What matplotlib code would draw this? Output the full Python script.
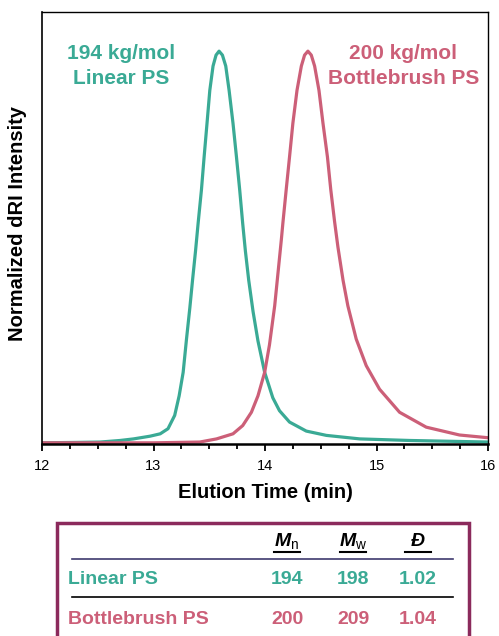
import matplotlib
matplotlib.use('Agg')
import matplotlib.pyplot as plt
from matplotlib.lines import Line2D
from matplotlib.patches import Rectangle

plt.rcParams['font.family'] = ['Liberation Sans', 'DejaVu Sans']
plt.rcParams['mathtext.fontset'] = 'custom'
plt.rcParams['mathtext.it'] = 'Liberation Sans:italic:bold'
plt.rcParams['mathtext.rm'] = 'Liberation Sans'

# elution traces
linear_t = [12.0, 12.3, 12.52, 12.7, 12.82, 12.97, 13.06, 13.13, 13.19, 13.23, 13.266,
            13.296, 13.326, 13.35, 13.377, 13.40, 13.43, 13.454, 13.48, 13.505, 13.534,
            13.561, 13.588, 13.618, 13.648, 13.678, 13.713, 13.744, 13.773, 13.80, 13.824,
            13.854, 13.893, 13.937, 13.997, 14.07, 14.13, 14.22, 14.37, 14.55, 14.85,
            15.30, 15.65, 16.0]
linear_i = [0.0, 0.001, 0.002, 0.006, 0.010, 0.017, 0.023, 0.036, 0.07, 0.12, 0.18,
            0.265, 0.345, 0.415, 0.49, 0.56, 0.646, 0.73, 0.816, 0.90, 0.962,
            0.99, 1.0, 0.99, 0.962, 0.90, 0.816, 0.73, 0.646, 0.56, 0.49,
            0.415, 0.335, 0.26, 0.18, 0.115, 0.082, 0.053, 0.030, 0.019, 0.010,
            0.006, 0.004, 0.002]

brush_t = [12.0, 13.0, 13.415, 13.565, 13.713, 13.80, 13.878, 13.937, 13.997, 14.04,
           14.087, 14.117, 14.147, 14.16, 14.19, 14.22, 14.25, 14.287, 14.326, 14.355,
           14.385, 14.415, 14.445, 14.484, 14.52, 14.56, 14.59, 14.624, 14.654, 14.70,
           14.743, 14.818, 14.908, 15.027, 15.207, 15.446, 15.744, 16.0]
brush_i = [0.0, 0.0, 0.002, 0.010, 0.023, 0.044, 0.078, 0.12, 0.18, 0.25,
           0.35, 0.435, 0.52, 0.56, 0.646, 0.73, 0.816, 0.90, 0.962, 0.99,
           1.0, 0.99, 0.962, 0.90, 0.816, 0.73, 0.646, 0.565, 0.50, 0.415,
           0.35, 0.265, 0.197, 0.137, 0.078, 0.040, 0.020, 0.013]

# table values
rows = ['Linear PS', 'Bottlebrush PS']
mn = ['194', '200']
mw = ['198', '209']
disp = ['1.02', '1.04']
headers = [r'$M_{\mathrm{n}}$', r'$M_{\mathrm{w}}$', 'Đ']

green = '#3aaa95'
pink = '#cc5f78'
W, H = 499, 636

fig = plt.figure(figsize=(W / 100, H / 100), dpi=100)
ax = fig.add_axes([42 / W, 1 - 444 / H, 446 / W, 432 / H])

ax.plot(linear_t, linear_i, color=green, lw=2.3, solid_joinstyle='round')
ax.plot(brush_t, brush_i, color=pink, lw=2.3, solid_joinstyle='round')

ax.set_xlim(12, 16)
ax.set_ylim(-0.003, 1.10)
ax.set_xticks([12, 13, 14, 15, 16])
ax.set_xticks([12 + 0.25 * k for k in range(17)], minor=True)
ax.set_yticks([])
ax.tick_params(axis='x', which='major', direction='out', length=5, width=1.3, labelsize=10.5, pad=6)
ax.tick_params(axis='x', which='minor', direction='out', length=3.5, width=1.3)
ax.spines['bottom'].set_linewidth(1.8)
ax.spines['left'].set_linewidth(1.2)
ax.spines['top'].set_linewidth(1.0)
ax.spines['right'].set_linewidth(1.0)
ax.set_xlabel('Elution Time (min)', fontsize=14.5, fontweight='bold', labelpad=7)
fig.text(18 / W, 1 - 224 / H, 'Normalized dRI Intensity', rotation=90, ha='center', va='center',
         fontsize=14.5, fontweight='bold')

ax.text(12.71, 0.962, '194 kg/mol\nLinear PS', color=green, fontsize=15, fontweight='bold',
        ha='center', va='center', linespacing=1.35)
ax.text(15.24, 0.962, '200 kg/mol\nBottlebrush PS', color=pink, fontsize=15, fontweight='bold',
        ha='center', va='center', linespacing=1.35)

# table below the chart
box = Rectangle((57 / W, -0.1), (469 - 57) / W, 0.1 + 1 - 523 / H, transform=fig.transFigure,
                fill=False, edgecolor='#8b2a5c', lw=2.5, clip_on=False)
fig.add_artist(box)

col_x = [287, 353, 418]
for x, h in zip(col_x, headers):
    fig.text(x / W, 1 - 541 / H, h, ha='center', va='center', fontsize=14,
             fontweight='bold', fontstyle='italic')
    fig.add_artist(Line2D([(x - 13) / W, (x + 13) / W], [1 - 552 / H, 1 - 552 / H],
                          transform=fig.transFigure, color='black', lw=1.5))

fig.add_artist(Line2D([72 / W, 453 / W], [1 - 559 / H, 1 - 559 / H],
                      transform=fig.transFigure, color='#3e3a6e', lw=1.2))
fig.add_artist(Line2D([72 / W, 453 / W], [1 - 597 / H, 1 - 597 / H],
                      transform=fig.transFigure, color='black', lw=1.2))

row_y = [579, 619]
for name, a, b, d, y, c in zip(rows, mn, mw, disp, row_y, [green, pink]):
    fig.text(68 / W, 1 - y / H, name, ha='left', va='center', fontsize=14,
             fontweight='bold', color=c)
    for x, v in zip(col_x, [a, b, d]):
        fig.text(x / W, 1 - y / H, v, ha='center', va='center', fontsize=14,
                 fontweight='bold', color=c)

fig.savefig('out.png', dpi=100)
